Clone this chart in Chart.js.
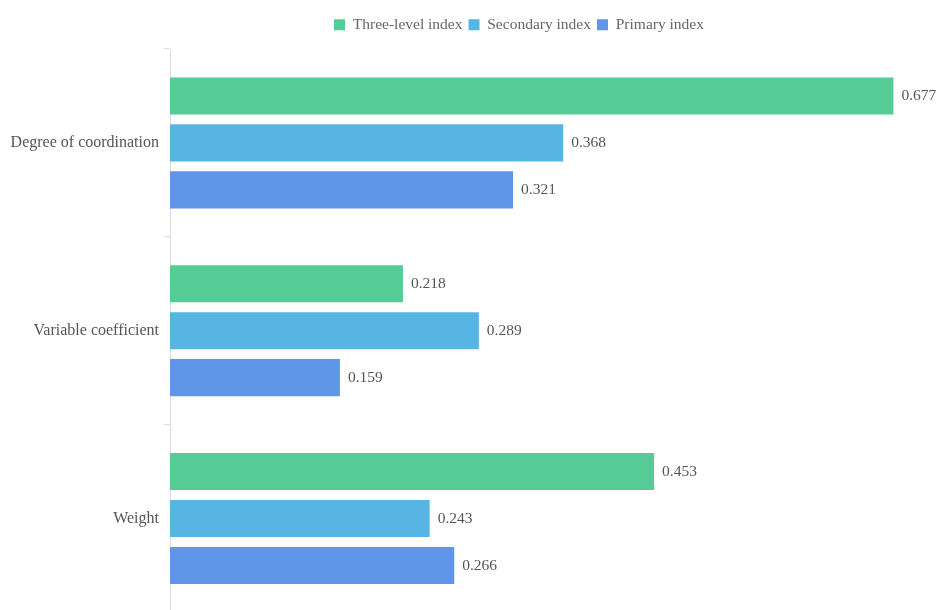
<!DOCTYPE html>
<html>
<head>
<meta charset="utf-8">
<script src="https://cdn.jsdelivr.net/npm/chart.js@4.4.1/dist/chart.umd.min.js"></script>
<style>
  html, body { margin: 0; padding: 0; background: #fff; overflow: hidden; }
  #wrap { width: 939px; height: 627px; position: relative; }
</style>
</head>
<body>
<div id="wrap"><canvas id="chart"></canvas></div>
<script>
const categories = ["Degree of coordination", "Variable coefficient", "Weight"];
const threeLevel = [0.677, 0.218, 0.453];
const secondary = [0.368, 0.289, 0.243];
const primary = [0.321, 0.159, 0.266];
const seriesNames = ["Three-level index", "Secondary index", "Primary index"];
const seriesColors = ["#55cb95", "#56b5e3", "#6096e7"];

// writes the value to the right of each bar
const valueLabels = {
    id: "valueLabels",
    afterDatasetsDraw(chart) {
        const ctx = chart.ctx;
        ctx.save();
        ctx.font = "15.5px 'Liberation Serif', serif";
        ctx.fillStyle = "#555";
        ctx.textAlign = "left";
        ctx.textBaseline = "middle";
        chart.data.datasets.forEach((ds, i) => {
            const meta = chart.getDatasetMeta(i);
            meta.data.forEach((bar, j) => {
                ctx.fillText(ds.data[j].toFixed(3), bar.x + 8, bar.y);
            });
        });
        ctx.restore();
    }
};

// legend sits right of the canvas centre in the original, with more room under it
const legendTweak = {
    id: "legendTweak",
    beforeLayout(chart) {
        const lg = chart.legend;
        if (lg && !lg._patched) {
            const fit = lg.fit;
            lg.fit = function () {
                fit.call(this);
                this.height += 6.5;
            };
            lg._patched = true;
        }
    },
    afterLayout(chart) {
        if (chart.legend) {
            chart.legend.left += 60;
            chart.legend.right += 60;
        }
    }
};

const data = {
    labels: categories,
    datasets: [threeLevel, secondary, primary].map((values, i) => ({
        label: seriesNames[i],
        data: values,
        backgroundColor: seriesColors[i],
        barPercentage: 0.79,
        categoryPercentage: 0.75
    }))
};

new Chart(document.getElementById("chart"), {
    type: "bar",
    data: data,
    plugins: [valueLabels, legendTweak],
    options: {
        indexAxis: "y",
        responsive: true,
        maintainAspectRatio: false,
        animation: false,
        layout: { padding: { left: 0, right: 21, top: 11, bottom: 0 } },
        plugins: {
            legend: {
                position: "top",
                labels: {
                    boxWidth: 11,
                    boxHeight: 11,
                    padding: 6,
                    color: "#666",
                    font: { family: "'Liberation Serif', serif", size: 15.5 }
                }
            },
            tooltip: { enabled: false }
        },
        scales: {
            x: {
                display: false,
                min: 0,
                max: 0.7
            },
            y: {
                afterFit(scale) { scale.width = 170; },
                border: { display: true, color: "#ddd" },
                grid: {
                    drawOnChartArea: false,
                    tickLength: 6,
                    color: "#ddd"
                },
                ticks: {
                    color: "#555",
                    padding: 5,
                    font: { family: "'Liberation Serif', serif", size: 16 }
                }
            }
        }
    }
});
</script>
</body>
</html>
